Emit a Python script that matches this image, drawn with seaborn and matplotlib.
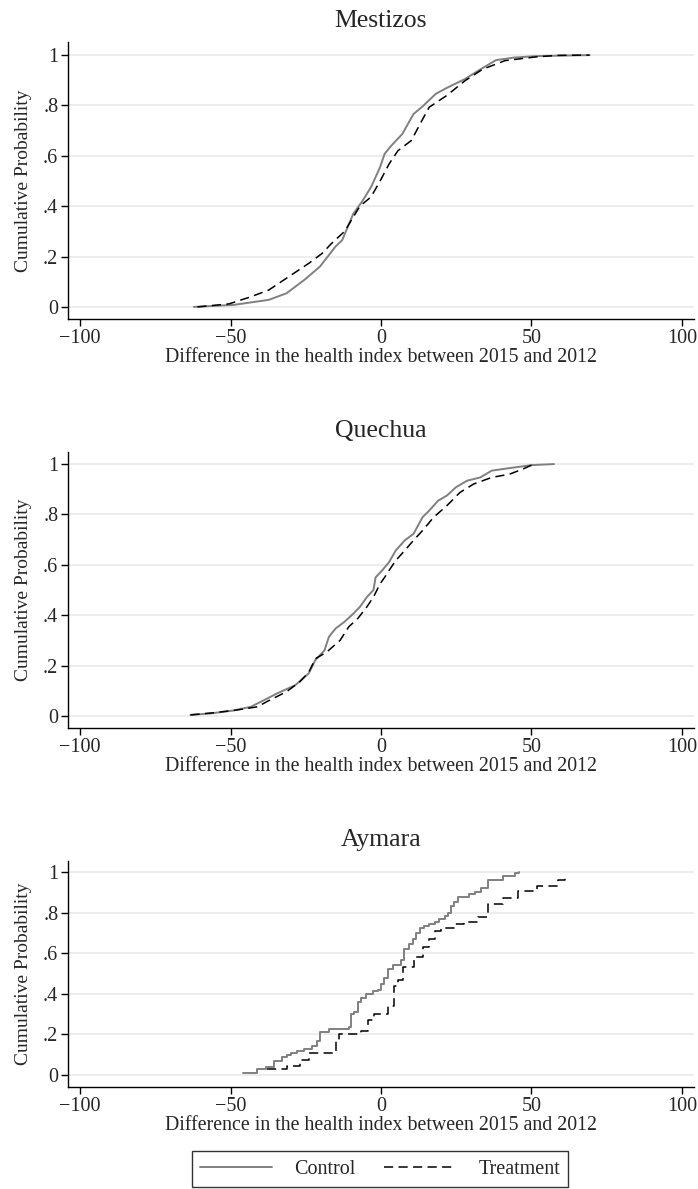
import numpy as np
import pandas as pd
import matplotlib
matplotlib.use('Agg')
import matplotlib.pyplot as plt
import seaborn as sns
from matplotlib.lines import Line2D

# ================================================================
# values (difference in health index, cumulative prob.)

mestizos_ctrl_x = [-62.2, -49.0, -37.3, -31.4, -25.5, -20.3, -15.1, -12.9, -9.2, -6.2, -3.3, -0.3, 1.2, 3.4,
                   7.1, 10.8, 13.8, 18.2, 21.9, 27.9, 32.3, 38.2, 44.1, 51.6, 69.3]
mestizos_ctrl_p = [0.0, 0.008, 0.028, 0.054, 0.107, 0.16, 0.24, 0.265, 0.37, 0.42, 0.476, 0.555, 0.608, 0.64,
                   0.687, 0.766, 0.796, 0.846, 0.87, 0.905, 0.938, 0.98, 0.99, 0.996, 1.0]
mestizos_treat_x = [-61.0, -50.5, -43.3, -37.3, -31.4, -24.0, -19.6, -16.6, -12.1, -9.2, -7.0, -3.3, -0.3, 2.7,
                    5.6, 10.1, 13.0, 16.0, 21.9, 27.9, 33.8, 41.2, 51.6, 59.0, 69.3]
mestizos_treat_p = [0.0, 0.012, 0.04, 0.067, 0.114, 0.173, 0.212, 0.25, 0.3, 0.357, 0.4, 0.437, 0.5, 0.568,
                    0.62, 0.661, 0.727, 0.793, 0.84, 0.898, 0.944, 0.978, 0.993, 0.999, 1.0]

quechua_ctrl_x = [-63.3, -56.6, -49.2, -43.3, -38.8, -34.4, -28.5, -24.0, -21.8, -18.8, -17.3, -15.1, -12.2,
                  -9.2, -7.0, -4.7, -2.5, -1.8, 0.4, 2.7, 4.9, 7.9, 10.8, 13.8, 16.0, 19.0, 21.9, 24.9,
                  28.6, 33.0, 36.8, 42.7, 50.1, 57.5]
quechua_ctrl_p = [0.004, 0.01, 0.021, 0.036, 0.063, 0.09, 0.122, 0.169, 0.222, 0.26, 0.314, 0.347, 0.373,
                  0.406, 0.433, 0.472, 0.5, 0.55, 0.578, 0.611, 0.657, 0.697, 0.723, 0.789, 0.815, 0.855,
                  0.875, 0.908, 0.934, 0.947, 0.974, 0.984, 0.996, 1.0]
quechua_treat_x = [-63.3, -55.1, -47.7, -41.1, -37.4, -31.4, -27.0, -24.0, -21.8, -18.1, -13.6, -10.7, -7.7,
                   -4.7, -2.5, -0.3, 1.2, 2.7, 4.9, 7.9, 10.8, 13.8, 17.5, 21.9, 26.3, 30.8, 36.8, 42.7,
                   47.1, 50.8]
quechua_treat_p = [0.004, 0.013, 0.024, 0.036, 0.06, 0.096, 0.135, 0.174, 0.227, 0.253, 0.3, 0.354, 0.387,
                   0.433, 0.472, 0.525, 0.55, 0.578, 0.617, 0.657, 0.697, 0.736, 0.789, 0.835, 0.888, 0.921,
                   0.947, 0.96, 0.98, 1.0]

aymara_ctrl_x = [-45.8, -41.1, -38.3, -35.6, -32.8, -31.1, -30.0, -27.8, -25.6, -22.8, -21.1, -20.2, -17.2,
                 -10.6, -10.0, -8.9, -7.8, -6.7, -5.0, -2.8, -1.1, 0.0, 1.1, 2.2, 3.9, 6.7, 7.8, 9.4, 10.6,
                 11.7, 12.8, 14.4, 16.1, 17.8, 19.4, 21.1, 22.2, 23.1, 24.4, 25.6, 29.4, 31.1, 33.3, 35.6,
                 40.6, 44.4, 45.8]
aymara_ctrl_p = [0.01, 0.03, 0.04, 0.07, 0.09, 0.10, 0.11, 0.12, 0.13, 0.145, 0.17, 0.21, 0.225, 0.235, 0.30,
                 0.31, 0.36, 0.38, 0.40, 0.415, 0.42, 0.45, 0.48, 0.52, 0.54, 0.565, 0.62, 0.645, 0.67, 0.70,
                 0.725, 0.735, 0.745, 0.755, 0.77, 0.785, 0.80, 0.83, 0.85, 0.875, 0.89, 0.90, 0.92, 0.96,
                 0.98, 0.997, 1.0]
aymara_treat_x = [-38.0, -31.1, -27.0, -24.0, -15.0, -13.9, -6.7, -4.4, -2.2, 2.2, 4.4, 5.6, 7.2, 11.1, 13.9,
                  16.1, 17.8, 20.0, 24.4, 27.5, 32.2, 35.6, 40.6, 45.6, 51.7, 58.9, 61.1]
aymara_treat_p = [0.03, 0.045, 0.075, 0.11, 0.17, 0.20, 0.215, 0.27, 0.30, 0.34, 0.44, 0.47, 0.53, 0.58, 0.63,
                  0.67, 0.71, 0.725, 0.745, 0.755, 0.78, 0.84, 0.87, 0.905, 0.93, 0.96, 0.975]

panel_titles = ['Mestizos', 'Quechua', 'Aymara']
ytick_vals = [0, 0.2, 0.4, 0.6, 0.8, 1]
ytick_labels = ['0', '.2', '.4', '.6', '.8', '1']
xtick_vals = [-100, -50, 0, 50, 100]

# ================================================================

sns.set_style('white')
plt.rcParams['font.family'] = ['Liberation Serif', 'DejaVu Serif']
plt.rcParams['axes.unicode_minus'] = True

W, H = 698, 1189
fig = plt.figure(figsize=(W / 100, H / 100), dpi=100)

# axes boxes in pixels: (left, top, right, bottom) plus ylim
boxes = [(68, 42, 694, 319, (-0.048, 1.052)),
         (68, 452, 694, 728, (-0.048, 1.048)),
         (68, 861, 694, 1087, (-0.059, 1.054))]

panels = [
    (mestizos_ctrl_x, mestizos_ctrl_p, mestizos_treat_x, mestizos_treat_p, 'default'),
    (quechua_ctrl_x, quechua_ctrl_p, quechua_treat_x, quechua_treat_p, 'default'),
    (aymara_ctrl_x, aymara_ctrl_p, aymara_treat_x, aymara_treat_p, 'steps-post'),
]

CTRL_COL = '#808080'
DASH = (0, (6, 3.5))

for i, (cx, cp, tx, tp, ds) in enumerate(panels):
    l, t, r, b, ylim = boxes[i]
    ax = fig.add_axes([l / W, 1 - b / H, (r - l) / W, (b - t) / H])

    ctrl = pd.DataFrame({'x': cx, 'p': cp})
    treat = pd.DataFrame({'x': tx, 'p': tp})
    sns.lineplot(data=ctrl, x='x', y='p', ax=ax, color=CTRL_COL, lw=1.4,
                 sort=False, estimator=None, drawstyle=ds)
    sns.lineplot(data=treat, x='x', y='p', ax=ax, color='black', lw=1.1,
                 sort=False, estimator=None, drawstyle=ds, linestyle=DASH)

    ax.set_xlim(-104, 104)
    ax.set_ylim(*ylim)
    ax.set_yticks(ytick_vals)
    ax.set_yticklabels(ytick_labels)
    ax.set_xticks(xtick_vals)
    for yv in ytick_vals:
        ax.axhline(yv, color='#eaeaea', lw=1.2, zorder=0)

    for s in ['top', 'right']:
        ax.spines[s].set_visible(False)
    for s in ['left', 'bottom']:
        ax.spines[s].set_color('black')
        ax.spines[s].set_linewidth(1.0)
    ax.tick_params(axis='both', direction='out', length=5, width=1, color='black',
                   labelsize=14.5, pad=2, left=True, bottom=True)
    ax.set_ylabel('Cumulative Probability', fontsize=14, labelpad=8)
    ax.set_xlabel('Difference in the health index between 2015 and 2012', fontsize=14.3, labelpad=0)
    ax.set_title(panel_titles[i], fontsize=18.5, pad=11)

handles = [Line2D([], [], color=CTRL_COL, lw=1.4),
           Line2D([], [], color='black', lw=1.1, linestyle=DASH)]
leg = fig.legend(handles, ['Control', 'Treatment'], loc='center', ncol=2,
                 bbox_to_anchor=(380 / W, 1 - 1169 / H), fontsize=14.5, frameon=True,
                 fancybox=False, edgecolor='black', handlelength=3.6, columnspacing=1.4,
                 handletextpad=1.1, borderpad=0.4)
leg.get_frame().set_linewidth(1.0)

fig.savefig('out.png', dpi=100)
plt.close(fig)
